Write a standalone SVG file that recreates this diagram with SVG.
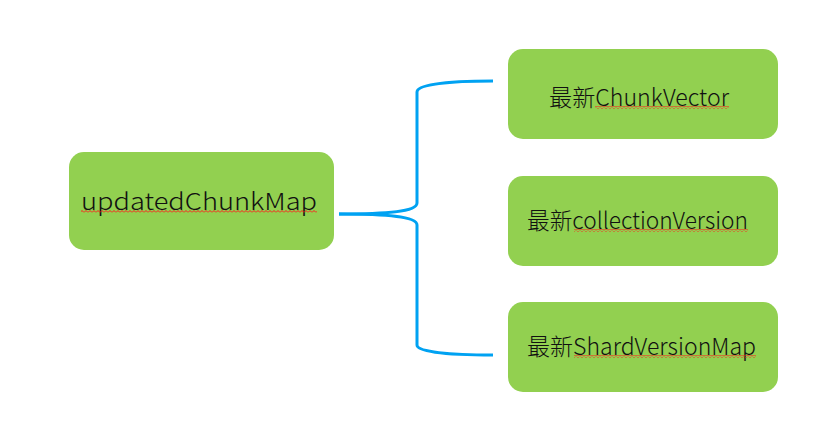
<svg xmlns="http://www.w3.org/2000/svg" width="836" height="431" viewBox="0 0 836 431">
<defs>
<style>
.node{fill:#92D050;}
.lbl{font-family:"Noto Sans CJK SC","Noto Sans",sans-serif;font-size:23px;font-weight:300;fill:#111;}
.conn{fill:none;stroke:#00A2F2;stroke-width:3;stroke-linecap:butt;}
.sq{fill:url(#squig);}
</style>
<pattern id="squig" width="4" height="3" patternUnits="userSpaceOnUse">
<path d="M0,2.5 L2,0.5 L4,2.5" fill="none" stroke="#FF1A1A" stroke-width="1"/>
</pattern>
</defs>
<rect width="836" height="431" fill="#fff"/>
<g id="connectors">
<path class="conn" d="M339,214 C385,214 417,212 417,203 L417,92 C417,84 450,81 493,81"/>
<path class="conn" d="M339,214 C385,214 417,216 417,225 L417,345 C417,352 450,355 493,355"/>
</g>
<g id="node-updatedChunkMap">
<rect class="node" x="69" y="152" width="265" height="98" rx="15"/>
<text class="lbl" x="81" y="210" textLength="236" lengthAdjust="spacingAndGlyphs">updatedChunkMap</text>
<rect class="sq" x="81" y="210" width="236" height="3"/>
</g>
<g id="node-chunkvector">
<rect class="node" x="508" y="49" width="270" height="90" rx="15"/>
<text class="lbl" x="549" y="106" textLength="180" lengthAdjust="spacingAndGlyphs">最新ChunkVector</text>
<rect class="sq" x="595" y="106" width="134" height="3"/>
</g>
<g id="node-collectionversion">
<rect class="node" x="508" y="176" width="270" height="90" rx="15"/>
<text class="lbl" x="527" y="229" textLength="221" lengthAdjust="spacingAndGlyphs">最新collectionVersion</text>
<rect class="sq" x="574" y="229" width="174" height="3"/>
</g>
<g id="node-shardversionmap">
<rect class="node" x="508" y="302" width="270" height="90" rx="15"/>
<text class="lbl" x="527" y="355" textLength="229" lengthAdjust="spacingAndGlyphs">最新ShardVersionMap</text>
<rect class="sq" x="574" y="355" width="182" height="3"/>
</g>
</svg>
